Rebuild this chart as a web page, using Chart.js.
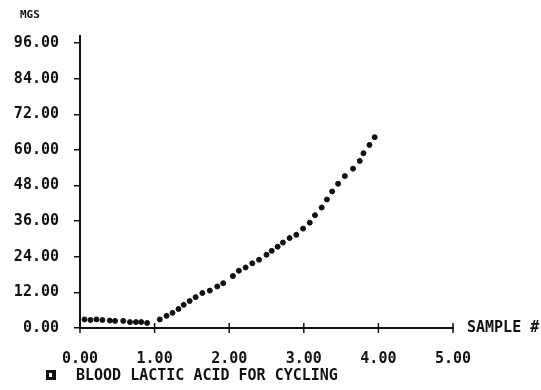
<!DOCTYPE html>
<html>
<head>
<meta charset="utf-8">
<title>Blood lactic acid for cycling</title>
<script src="https://cdn.jsdelivr.net/npm/chart.js@4"></script>
<style>
  html, body { margin: 0; padding: 0; background: #fff; }
  #wrap { width: 541px; height: 390px; }
</style>
</head>
<body>
<div id="wrap"><canvas id="lactic"></canvas></div>
<script>
// sample number vs. blood lactic acid (MGS)
var samples = [0.06, 0.14, 0.22, 0.30, 0.40, 0.47, 0.58, 0.67, 0.75, 0.82, 0.90,
               1.07, 1.16, 1.24, 1.32, 1.39, 1.47, 1.55, 1.64, 1.74, 1.84, 1.92,
               2.05, 2.13, 2.22, 2.31, 2.40, 2.50, 2.57, 2.65, 2.72, 2.81, 2.90,
               2.99, 3.08, 3.15, 3.24, 3.31, 3.38, 3.46, 3.55, 3.66, 3.75, 3.80,
               3.88, 3.95];
var lactic = [2.9, 2.7, 2.9, 2.7, 2.5, 2.4, 2.4, 2.0, 2.0, 2.0, 1.7,
              2.9, 4.1, 5.1, 6.4, 7.8, 9.1, 10.4, 11.8, 12.6, 14.0, 15.1,
              17.5, 19.3, 20.4, 21.8, 23.0, 24.7, 26.0, 27.4, 28.8, 30.3, 31.4,
              33.5, 35.5, 38.0, 40.6, 43.3, 46.0, 48.6, 51.2, 53.7, 56.3, 58.9,
              61.7, 64.3];
var xTicks = [0, 1, 2, 3, 4, 5];
var yTicks = [0, 12, 24, 36, 48, 60, 72, 84, 96];

var mono = '"DejaVu Sans Mono", "Liberation Mono", monospace';
var ink = '#111';

// crosses on the x axis plus the loose labels round the plot
var plotText = {
    id: 'plotText',
    afterDraw: function(chart) {
        var ctx = chart.ctx;
        var area = chart.chartArea;
        var xs = chart.scales.x;
        ctx.save();
        ctx.strokeStyle = ink;
        ctx.lineWidth = 1.5;
        xTicks.forEach(function(v) {
            var px = xs.getPixelForValue(v);
            ctx.beginPath();
            ctx.moveTo(px, area.bottom - 5);
            ctx.lineTo(px, area.bottom + 5);
            ctx.stroke();
        });

        ctx.fillStyle = ink;
        ctx.textBaseline = 'middle';
        ctx.textAlign = 'left';
        ctx.font = 'bold 11px ' + mono;
        ctx.fillText('MGS', 20, 15);

        ctx.font = 'bold 15px ' + mono;
        ctx.fillText('SAMPLE #', area.right + 14, area.bottom);

        // legend line under the axis
        ctx.fillRect(46, 370, 10, 10);
        ctx.fillStyle = '#fff';
        ctx.fillRect(49, 373, 3, 4);
        ctx.fillStyle = ink;
        ctx.fillText(chart.data.datasets[0].label, 76, 376);
        ctx.restore();
    }
};

new Chart(document.getElementById('lactic'), {
    type: 'scatter',
    data: {
        datasets: [{
            label: 'BLOOD LACTIC ACID FOR CYCLING',
            data: samples.map(function(x, i) { return { x: x, y: lactic[i] }; }),
            backgroundColor: ink,
            borderColor: ink,
            pointRadius: 2.5,
            pointHoverRadius: 2.5
        }]
    },
    options: {
        responsive: true,
        maintainAspectRatio: false,
        animation: false,
        layout: { padding: { top: 36, right: 88, left: 0, bottom: 0 } },
        plugins: {
            legend: { display: false },
            tooltip: { enabled: false }
        },
        scales: {
            x: {
                type: 'linear',
                min: 0,
                max: 5,
                afterFit: function(scale) { scale.height = 62; },
                afterBuildTicks: function(scale) {
                    scale.ticks = xTicks.map(function(v) { return { value: v }; });
                },
                border: { display: true, color: ink, width: 2 },
                grid: { display: false },
                ticks: {
                    padding: 14,
                    maxRotation: 0,
                    color: ink,
                    font: { family: mono, size: 15, weight: 'bold' },
                    callback: function(v) { return Number(v).toFixed(2); }
                }
            },
            y: {
                min: 0,
                max: 98.4,
                afterFit: function(scale) { scale.width = 80; },
                afterBuildTicks: function(scale) {
                    scale.ticks = yTicks.map(function(v) { return { value: v }; });
                },
                border: { display: true, color: ink, width: 2 },
                grid: {
                    drawOnChartArea: false,
                    drawTicks: true,
                    tickLength: 6,
                    color: ink,
                    lineWidth: 1.5
                },
                ticks: {
                    padding: 15,
                    color: ink,
                    font: { family: mono, size: 15, weight: 'bold' },
                    callback: function(v) { return Number(v).toFixed(2); }
                }
            }
        }
    },
    plugins: [plotText]
});
</script>
</body>
</html>
